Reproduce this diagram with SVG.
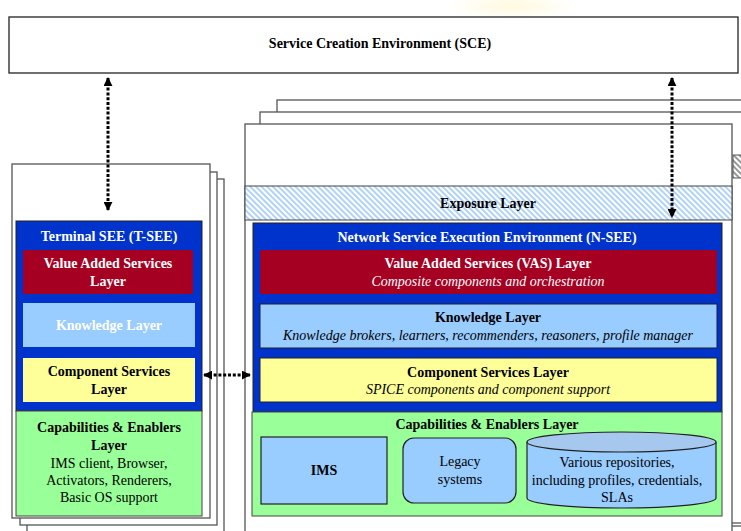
<svg xmlns="http://www.w3.org/2000/svg" width="741" height="531" viewBox="0 0 741 531" font-family="'Liberation Serif', 'Times New Roman', serif">
  <defs>
    <radialGradient id="glow" cx="0.5" cy="0.5" r="0.5">
      <stop offset="0" stop-color="#fff8d6" stop-opacity="0.8"/>
      <stop offset="1" stop-color="#fff8d6" stop-opacity="0"/>
    </radialGradient>
    <pattern id="hatchBlue" width="4" height="4" patternUnits="userSpaceOnUse" patternTransform="rotate(-45)">
      <rect width="4" height="4" fill="#ffffff"/>
      <line x1="1" y1="0" x2="1" y2="4" stroke="#8ec0f5" stroke-width="1.4"/>
    </pattern>
    <pattern id="hatchGray" width="4" height="4" patternUnits="userSpaceOnUse" patternTransform="rotate(-45)">
      <rect width="4" height="4" fill="#ffffff"/>
      <line x1="1" y1="0" x2="1" y2="4" stroke="#555555" stroke-width="1.2"/>
    </pattern>
    <marker id="head" viewBox="0 0 10 10" refX="9" refY="5" markerWidth="3" markerHeight="3" orient="auto-start-reverse" markerUnits="strokeWidth">
      <path d="M0,0 L10,5 L0,10 Z" fill="#000"/>
    </marker>
  </defs>
  <style>
    text { font-family: "Liberation Serif", "Times New Roman", serif; font-size: 14px; text-anchor: middle; }
    .b { font-weight: bold; }
    .i { font-style: italic; }
    .w { fill: #ffffff; }
    .k { fill: #000000; }
    .page { fill: #ffffff; stroke: #555555; stroke-width: 1.3; }
    .env { fill: #0033cc; stroke: #222222; stroke-width: 1; }
    .vas { fill: #a50021; }
    .know { fill: #99ccff; stroke: #222222; stroke-width: 1; }
    .comp { fill: #ffff99; stroke: #222222; stroke-width: 1; }
    .cap { fill: #99ff99; stroke: #444444; stroke-width: 1; }
    .item { fill: #99ccff; stroke: #222222; stroke-width: 1.2; }
    .conn { stroke: #000; stroke-width: 3; stroke-dasharray: 3 1.8; fill: none; marker-start: url(#head); marker-end: url(#head); }
  </style>

  <rect width="741" height="531" fill="#ffffff"/>
  <ellipse cx="512" cy="6" rx="65" ry="14" fill="url(#glow)"/>

  <!-- Service Creation Environment -->
  <g id="sce">
    <rect x="9" y="17" width="729" height="56" fill="#ffffff" stroke="#222222" stroke-width="1.3"/>
    <text class="b k" x="380" y="48">Service Creation Environment (SCE)</text>
  </g>

  <!-- Terminal SEE stack -->
  <g id="t-see">
    <rect class="page" x="27" y="179" width="197" height="360"/>
    <rect class="page" x="20" y="172" width="197" height="353"/>
    <rect class="page" x="12" y="164" width="198" height="354"/>
    <rect class="env" x="16" y="221" width="186" height="190"/>
    <text class="b w" x="109" y="241">Terminal SEE (T-SEE)</text>
    <g id="t-vas">
      <rect class="vas" x="23" y="250" width="170" height="44"/>
      <text class="b w" x="108" y="268">Value Added Services</text>
      <text class="b w" x="108" y="286">Layer</text>
    </g>
    <g id="t-knowledge">
      <rect fill="#99ccff" x="23" y="303" width="172" height="44"/>
      <text class="b w" x="109" y="330">Knowledge Layer</text>
    </g>
    <g id="t-component">
      <rect fill="#ffff99" x="23" y="358" width="172" height="44"/>
      <text class="b k" x="109" y="376">Component Services</text>
      <text class="b k" x="109" y="394">Layer</text>
    </g>
    <g id="t-capabilities">
      <rect class="cap" x="16" y="411" width="186" height="105"/>
      <text class="b k" x="109" y="432">Capabilities &amp; Enablers</text>
      <text class="b k" x="109" y="450">Layer</text>
      <text class="k" x="109" y="468">IMS client, Browser,</text>
      <text class="k" x="109" y="485">Activators, Renderers,</text>
      <text class="k" x="109" y="502">Basic OS support</text>
    </g>
  </g>

  <!-- Network SEE stack -->
  <g id="n-see">
    <rect class="page" x="277" y="100" width="480" height="450"/>
    <rect class="page" x="260" y="112" width="490" height="414"/>
    <rect x="733" y="155" width="12" height="23" fill="url(#hatchGray)" stroke="#555555" stroke-width="1"/>
    <rect class="page" x="245" y="124" width="487" height="420"/>
    <g id="exposure">
      <rect x="245" y="186" width="487" height="34" fill="url(#hatchBlue)" stroke="#444444" stroke-width="1"/>
      <text class="b k" x="488" y="208">Exposure Layer</text>
    </g>
    <rect class="env" x="253" y="223" width="469" height="189"/>
    <text class="b w" x="487" y="242">Network Service Execution Environment (N-SEE)</text>
    <g id="n-vas">
      <rect class="vas" x="260" y="250" width="457" height="44"/>
      <text class="b w" x="488" y="268">Value Added Services  (VAS) Layer</text>
      <text class="i w" x="488" y="286">Composite components and orchestration</text>
    </g>
    <g id="n-knowledge">
      <rect class="know" x="260" y="304" width="457" height="44"/>
      <text class="b k" x="488" y="322">Knowledge Layer</text>
      <text class="i k" x="488" y="340">Knowledge brokers, learners, recommenders, reasoners, profile manager</text>
    </g>
    <g id="n-component">
      <rect class="comp" x="260" y="358" width="457" height="44"/>
      <text class="b k" x="488" y="377">Component Services Layer</text>
      <text class="i k" x="488" y="394">SPICE components and component support</text>
    </g>
    <g id="n-capabilities">
      <rect class="cap" x="252" y="412" width="470" height="104"/>
      <text class="b k" x="487" y="429">Capabilities &amp; Enablers Layer</text>
      <g id="ims">
        <rect class="item" x="261" y="437" width="126" height="67"/>
        <text class="b k" x="324" y="475">IMS</text>
      </g>
      <g id="legacy">
        <rect class="item" x="403" y="438" width="113" height="65" rx="11"/>
        <text class="k" x="460" y="466">Legacy</text>
        <text class="k" x="460" y="484">systems</text>
      </g>
      <g id="repositories">
        <path class="item" d="M527,442 L527,498 A94.5,10 0 0 0 716,498 L716,442"/>
        <ellipse cx="621.5" cy="442" rx="94.5" ry="10" fill="#a6c8ee" stroke="#222222" stroke-width="1.2"/>
        <text class="k" x="617" y="467">Various repositories,</text>
        <text class="k" x="617" y="485">including profiles, credentials,</text>
        <text class="k" x="617" y="502">SLAs</text>
      </g>
    </g>
    <line x1="732" y1="523" x2="741" y2="523" stroke="#555555" stroke-width="1.3"/>
  </g>

  <!-- Connectors -->
  <g id="connectors">
    <line class="conn" x1="108" y1="78" x2="108" y2="210"/>
    <line class="conn" x1="672" y1="78" x2="672" y2="217"/>
    <line class="conn" x1="204" y1="375" x2="250" y2="375"/>
  </g>
</svg>
